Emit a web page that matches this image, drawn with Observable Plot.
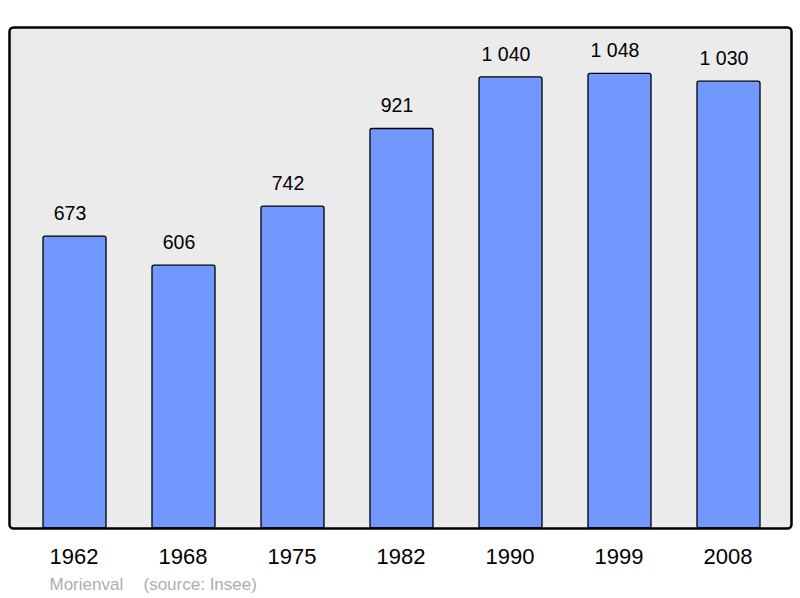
<!DOCTYPE html>
<html>
<head>
<meta charset="utf-8">
<script src="https://cdn.jsdelivr.net/npm/d3@7"></script>
<script src="https://cdn.jsdelivr.net/npm/@observablehq/plot@0.6"></script>
<style>
  html, body { margin: 0; padding: 0; background: #fff; }
  svg { display: block; font-family: "Liberation Sans", Arial, sans-serif; }
</style>
</head>
<body>
<div id="chart"></div>
<script>
const years = ["1962", "1968", "1975", "1982", "1990", "1999", "2008"];
const population = [673, 606, 742, 921, 1040, 1048, 1030];
const commune = "Morienval";
const source = "(source: Insee)";

const data = years.map((y, i) => ({year: y, pop: population[i]}));
const fmt = d3.formatLocale({decimal: ",", thousands: "\u00a0", grouping: [3], currency: ["", ""]}).format(",d");

const chart = Plot.plot({
  width: 800,
  height: 598,
  marginTop: 27,
  marginBottom: 70,
  marginLeft: 9,
  marginRight: 9,
  style: {fontFamily: "'Liberation Sans', Arial, sans-serif", background: "#fff"},
  x: {type: "band", domain: years, range: [9.2, 793.8], paddingInner: 0.424, paddingOuter: 0.3, axis: null},
  y: {domain: [0, 1155], axis: null},
  marks: [
    Plot.frame({fill: "#ebebeb", stroke: "none", rx: 4}),
    Plot.barY(data, {x: "year", y: "pop", fill: "#7098ff", stroke: "#000", strokeWidth: 1.3, rx: 2}),
    Plot.frame({fill: "none", stroke: "#000", strokeWidth: 2.5, rx: 4}),
    Plot.text(data, {x: "year", y: "pop", text: d => fmt(d.pop), dx: -5, dy: -23, lineAnchor: "middle", fontSize: 19.5, fill: "#000"}),
    Plot.text(years, {x: d => d, text: d => d, frameAnchor: "bottom", dx: -1, dy: 28, lineAnchor: "middle", fontSize: 22, fill: "#000"}),
    Plot.text([commune], {text: d => d, frameAnchor: "bottom-left", dx: 40, dy: 56, textAnchor: "start", lineAnchor: "middle", fontSize: 17, fill: "#adadad"}),
    Plot.text([source], {text: d => d, frameAnchor: "bottom-left", dx: 134, dy: 56, textAnchor: "start", lineAnchor: "middle", fontSize: 17, fill: "#adadad"})
  ]
});
document.getElementById("chart").appendChild(chart);
</script>
</body>
</html>
